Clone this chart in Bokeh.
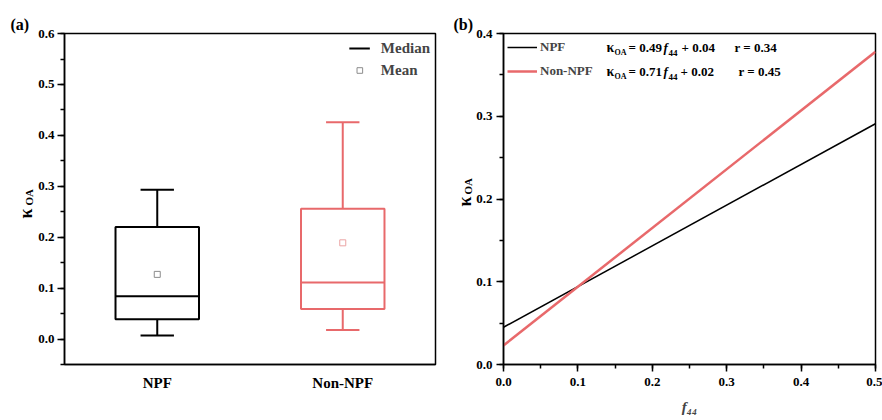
import math
from bokeh.plotting import figure
from bokeh.layouts import row
from bokeh.models import (ColumnDataSource, Range1d, FactorRange, SingleIntervalTicker,
                          PrintfTickFormatter, Label, Legend, LegendItem, Title)
from bokeh.transform import dodge
from bokeh.embed import file_html
from bokeh.resources import INLINE

# ---------------- data: panel (a) box plot ----------------
categories = ["NPF", "Non-NPF"]
lower = [0.007, 0.018]
q1 = [0.039, 0.059]
median = [0.084, 0.111]
q3 = [0.220, 0.256]
upper = [0.293, 0.426]
mean = [0.127, 0.189]
box_colors = ["#000000", "#E8696B"]
mean_colors = ["#8C8C8C", "#EBA3A3"]

# ---------------- data: panel (b) regression lines ----------------
f44 = [0.0, 0.5]
kappa_npf = [0.045, 0.291]
kappa_non = [0.023, 0.378]
line_labels = ["NPF", "Non-NPF"]
slopes = ["0.49", "0.71"]
intercepts = ["0.04", "0.02"]
r_values = ["0.34", "0.45"]

FONT = "Liberation Serif"
RED = "#E8696B"


def style_axis(ax, tick_out=7, minor_out=4, standoff=3, size="13px"):
    ax.axis_line_width = 1.5
    ax.axis_line_color = "black"
    ax.major_tick_line_width = 1.5
    ax.minor_tick_line_width = 1.5
    ax.major_tick_out = tick_out
    ax.major_tick_in = 0
    ax.minor_tick_out = minor_out
    ax.minor_tick_in = 0
    ax.major_label_standoff = standoff
    ax.major_label_text_font = FONT
    ax.major_label_text_font_style = "bold"
    ax.major_label_text_font_size = size
    ax.major_label_text_color = "black"


def txt(p, x, y, text, size="13px", style="bold", angle=0.0):
    p.add_layout(Label(x=x, y=y, x_units="screen", y_units="screen", text=text,
                       text_font=FONT, text_font_style=style, text_font_size=size,
                       text_color="black", angle=angle, text_align="left",
                       text_baseline="middle"))


def label_strip(width, tag, tag_offset):
    """A narrow figure without axes holding the panel tag and the rotated y label."""
    s = figure(width=width, height=420, x_range=Range1d(0, 1), y_range=Range1d(0, 1),
               x_axis_location=None, y_axis_location=None, output_backend="svg",
               toolbar_location=None, min_border=0)
    s.outline_line_color = None
    s.xgrid.visible = False
    s.ygrid.visible = False
    s.add_layout(Title(text=tag, align="left", offset=tag_offset, standoff=2,
                       text_font=FONT, text_font_style="bold", text_font_size="16px",
                       text_color="black"), "above")
    return s


# ================= panel (a) =================
la = label_strip(34, "(a)", 10)
txt(la, 25, 146, "κ", size="18px", angle=math.pi / 2)
txt(la, 28, 159, "OA", size="11px", angle=math.pi / 2)

p1 = figure(width=411, height=420, x_range=FactorRange(*categories),
            y_range=Range1d(-0.05, 0.6001), output_backend="svg", toolbar_location=None,
            min_border_left=30, min_border_right=10, min_border_top=33, min_border_bottom=54)
p1.outline_line_color = "black"
p1.outline_line_width = 1.5
p1.xgrid.visible = False
p1.ygrid.visible = False

src = ColumnDataSource(dict(cat=categories, lower=lower, q1=q1, median=median, q3=q3,
                            upper=upper, mean=mean, color=box_colors, mcolor=mean_colors))

p1.vbar(x="cat", top="q3", bottom="q1", width=0.45, fill_color=None,
        line_color="color", line_width=2, source=src)
p1.segment(x0="cat", y0="q3", x1="cat", y1="upper", line_color="color", line_width=2, source=src)
p1.segment(x0="cat", y0="q1", x1="cat", y1="lower", line_color="color", line_width=2, source=src)
p1.segment(x0=dodge("cat", -0.09, range=p1.x_range), y0="upper",
           x1=dodge("cat", 0.09, range=p1.x_range), y1="upper",
           line_color="color", line_width=2, source=src)
p1.segment(x0=dodge("cat", -0.09, range=p1.x_range), y0="lower",
           x1=dodge("cat", 0.09, range=p1.x_range), y1="lower",
           line_color="color", line_width=2, source=src)
med_r = p1.segment(x0=dodge("cat", -0.225, range=p1.x_range), y0="median",
                   x1=dodge("cat", 0.225, range=p1.x_range), y1="median",
                   line_color="color", line_width=2, source=src)
mean_r = p1.scatter(x="cat", y="mean", marker="square", size=6, fill_color=None,
                    line_color="mcolor", line_width=1, source=src)

leg1 = Legend(items=[LegendItem(label="Median", renderers=[med_r], index=0),
                     LegendItem(label="Mean", renderers=[mean_r], index=0)],
              location="top_right", glyph_width=21, glyph_height=14, label_height=20,
              label_standoff=11, spacing=2, padding=0, margin=5,
              label_text_font=FONT, label_text_font_style="bold",
              label_text_font_size="15px", background_fill_alpha=0, border_line_alpha=0)
p1.add_layout(leg1)

style_axis(p1.yaxis[0])
p1.yaxis.ticker = SingleIntervalTicker(interval=0.1, num_minor_ticks=2)
p1.yaxis.formatter = PrintfTickFormatter(format="%.1f")
style_axis(p1.xaxis[0], tick_out=0, minor_out=0, standoff=10, size="15px")

# ================= panel (b) =================
lb = label_strip(28, "(b)", 8)
txt(lb, 19, 158, "κ", size="18px", angle=math.pi / 2)
txt(lb, 22, 170, "OA", size="11px", angle=math.pi / 2)

p2 = figure(width=409, height=420, x_range=Range1d(0, 0.5001), y_range=Range1d(0, 0.4001),
            output_backend="svg", toolbar_location=None,
            min_border_left=29, min_border_right=7, min_border_top=33, min_border_bottom=56)
p2.outline_line_color = "black"
p2.outline_line_width = 1.5
p2.xgrid.visible = False
p2.ygrid.visible = False

r_npf = p2.line(f44, kappa_npf, line_color="black", line_width=1.5)
r_non = p2.line(f44, kappa_non, line_color=RED, line_width=2.5)

leg2 = Legend(items=[LegendItem(label=line_labels[0], renderers=[r_npf]),
                     LegendItem(label=line_labels[1], renderers=[r_non])],
              location="top_left", glyph_width=30, glyph_height=20, label_height=20,
              label_standoff=3, spacing=4, padding=0, margin=4,
              label_text_font=FONT, label_text_font_style="bold",
              label_text_font_size="13px", background_fill_alpha=0, border_line_alpha=0)
p2.add_layout(leg2)

for ax in (p2.xaxis[0], p2.yaxis[0]):
    style_axis(ax)
    ax.ticker = SingleIntervalTicker(interval=0.1, num_minor_ticks=2)
    ax.formatter = PrintfTickFormatter(format="%.1f")
p2.xaxis.major_label_standoff = 6
p2.yaxis.major_label_standoff = 4
p2.xaxis.axis_label = "f\u2084\u2084"
p2.xaxis.axis_label_text_font = FONT
p2.xaxis.axis_label_text_font_style = "bold italic"
p2.xaxis.axis_label_text_font_size = "15px"
p2.xaxis.axis_label_standoff = 10

# equations
row_y = [317, 293]
r_x = [231, 235]
int_x = [178, 177]
for i in range(2):
    y = row_y[i]
    txt(p2, 103, y, "κ", size="14px")
    txt(p2, 111, y - 5, "OA", size="8px")
    txt(p2, 125, y, "= " + slopes[i], size="13px")
    txt(p2, 160, y, "f", size="13px", style="bold italic")
    txt(p2, 165, y - 5, "44", size="9px")
    txt(p2, int_x[i], y, "+ " + intercepts[i], size="13px")
    txt(p2, r_x[i], y, "r = " + r_values[i], size="13px")

layout = row(la, p1, lb, p2)
open("out.html", "w").write(file_html(layout, INLINE))
